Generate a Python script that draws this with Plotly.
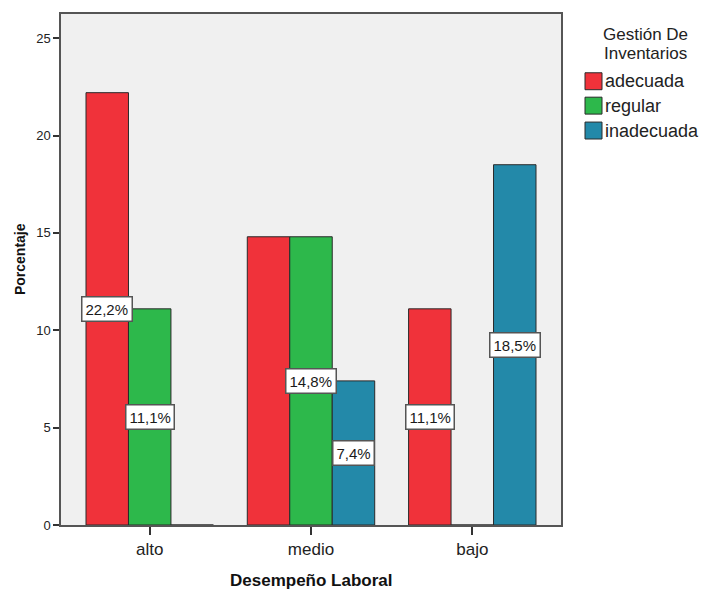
import plotly.graph_objects as go

# Data: percentage per performance level, split by inventory-management rating
categories = ["alto", "medio", "bajo"]
series_names = ["adecuada", "regular", "inadecuada"]
adecuada = [22.2, 14.8, 11.1]
regular = [11.1, 14.8, 0.0]
inadecuada = [0.0, 7.4, 18.5]
series_values = [adecuada, regular, inadecuada]
y_ticks = [0, 5, 10, 15, 20, 25]
# which bars carry a value label (per series, per category)
label_shown = [
    [True, False, True],
    [True, True, False],
    [False, True, True],
]

colors = ["#F0323A", "#2DB84B", "#2389A9"]
FONT = "Liberation Sans, Arial, sans-serif"

W, H = 707, 593
L, R, T, B = 61, 146, 12, 68
plot_w = W - L - R
plot_h = H - T - B


def px_x(px):
    return (px - L) / plot_w


def px_y(py):
    return (H - B - py) / plot_h


bargap = 0.21
bar_w = (1 - bargap) / len(series_names)
x_idx = list(range(len(categories)))

fig = go.Figure()
for s, (name, vals) in enumerate(zip(series_names, series_values)):
    fig.add_trace(go.Bar(
        x=x_idx, y=vals, name=name,
        marker=dict(color=colors[s], line=dict(color="#2a2a2a", width=1)),
        showlegend=False,
    ))

annotations = []
# value labels at mid-height of each bar
for s, vals in enumerate(series_values):
    for i, v in enumerate(vals):
        if not label_shown[s][i]:
            continue
        annotations.append(dict(
            x=i + (s - 1) * bar_w, y=v / 2, xref="x", yref="y",
            xanchor="center", yanchor="middle",
            text=f"{v:.1f}%".replace(".", ","), showarrow=False,
            font=dict(family=FONT, size=15, color="#1a1a1a"),
            bgcolor="white", bordercolor="#555555", borderwidth=1.5, borderpad=3,
        ))


def paper_text(px, py, text, size, **kw):
    d = dict(x=px_x(px), y=px_y(py), xref="paper", yref="paper",
             xanchor="center", yanchor="middle", text=text, showarrow=False,
             font=dict(family=FONT, size=size, color=kw.pop("color", "#222")))
    d.update(kw)
    return d


# axis titles
annotations.append(paper_text(20, 258, "<b>Porcentaje</b>", 14, textangle=-90, color="#111"))
annotations.append(paper_text(311, 581, "<b>Desempeño Laboral</b>", 17, color="#111"))

# legend: title and swatches
annotations.append(paper_text(645, 33, "Gestión De", 17))
annotations.append(paper_text(645, 52, "Inventarios", 17))
shapes = []
legend_y = [79.5, 104, 129]
for s, name in enumerate(series_names):
    cy = legend_y[s]
    shapes.append(dict(
        type="rect", xref="paper", yref="paper",
        x0=px_x(585), x1=px_x(602), y0=px_y(cy - 8.5), y1=px_y(cy + 8.5),
        fillcolor=colors[s], line=dict(color="#2a2a2a", width=1),
    ))
    annotations.append(paper_text(603, cy, name, 18, xanchor="left"))

fig.update_layout(
    width=W, height=H,
    margin=dict(l=L, r=R, t=T, b=B, pad=0),
    paper_bgcolor="white", plot_bgcolor="#F0F0F0",
    barmode="group", bargap=bargap, bargroupgap=0,
    annotations=annotations, shapes=shapes,
    font=dict(family=FONT, color="#222"),
)
fig.update_xaxes(
    range=[-0.55, 2.55], tickvals=x_idx, ticktext=categories,
    ticks="outside", ticklen=8, tickwidth=1.5, tickcolor="#333",
    showline=True, linecolor="#555", linewidth=1.5, mirror=True,
    showgrid=False, zeroline=False,
    tickfont=dict(family=FONT, size=17, color="#222"),
)
fig.update_yaxes(
    range=[0, 26.24], tickvals=y_ticks,
    ticks="outside", ticklen=6, tickwidth=1.5, tickcolor="#333",
    showline=True, linecolor="#555", linewidth=1.5, mirror=True,
    showgrid=False, zeroline=False,
    tickfont=dict(family=FONT, size=13, color="#222"),
)

fig.write_html("out.html")
